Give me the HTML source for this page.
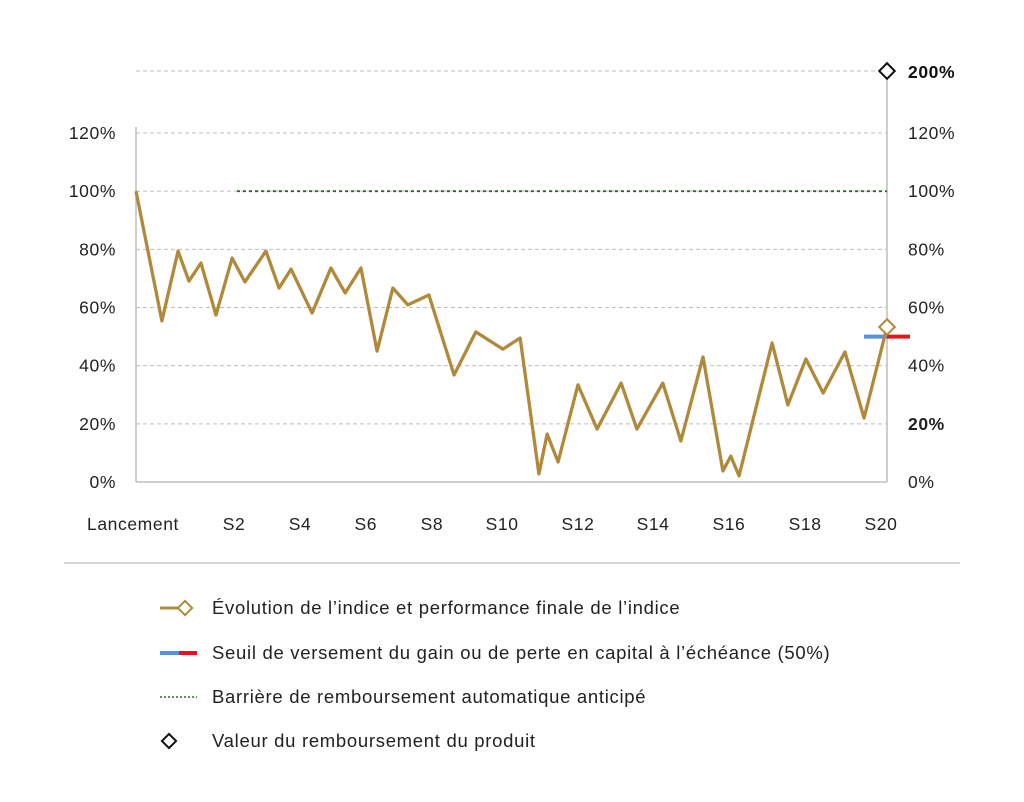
<!DOCTYPE html>
<html><head><meta charset="utf-8"><style>
body{margin:0;background:#fff;}
svg{display:block;font-family:"Liberation Sans",sans-serif;}
#legend text{letter-spacing:0.7px;}
#axes text{letter-spacing:0.6px;}
</style></head><body>
<svg width="1024" height="802" viewBox="0 0 1024 802">
<g id="grid"></g>
<g id="axes"></g>
<g id="series"></g>
<g id="legend"></g>
</svg>
<script>
const times=[0,0.69,1.12,1.41,1.73,2.13,2.56,2.90,3.46,3.81,4.13,4.69,5.19,5.57,5.99,6.42,6.84,7.24,7.80,8.47,9.05,9.77,10.23,10.73,10.95,11.24,11.77,12.28,12.92,13.34,14.03,14.51,15.10,15.63,15.84,16.06,16.94,17.36,17.84,18.30,18.88,19.39,20];
const indexValues=[100,55.4,79.4,69.1,75.3,57.4,77,68.8,79.4,66.7,73.2,58.1,73.6,65,73.6,45,66.7,60.9,64.3,36.8,51.6,45.7,49.5,2.8,16.5,6.9,33.4,18.2,34,18.2,34,14.1,43,3.8,8.9,2.1,47.8,26.5,42.3,30.6,44.7,22,53.3];
const xTickLabels=["Lancement","S2","S4","S6","S8","S10","S12","S14","S16","S18","S20"];
const xTickTimes=[0,2.69,4.45,6.2,7.96,9.83,11.85,13.85,15.87,17.9,19.92];
const yTicks=[0,20,40,60,80,100,120];
const barrier=100, barrierStart=2.69;
const threshold=50;
const redemption=200;

const NS="http://www.w3.org/2000/svg";
const X0=136,X1=887,Y0=482,Y120=133;
const x=t=>X0+(t-0)/20*(X1-X0);
const y=v=>Y0-v/120*(Y0-Y120);
function mk(tag,attrs,parent,text){const e=document.createElementNS(NS,tag);for(const k in attrs)e.setAttribute(k,attrs[k]);if(text!==undefined)e.textContent=text;parent.appendChild(e);return e;}
const G=document.getElementById('grid'),A=document.getElementById('axes'),S=document.getElementById('series'),L=document.getElementById('legend');

yTicks.forEach(v=>{
  if(v>0){const l=mk('line',{x1:X0,x2:X1,y1:y(v),y2:y(v),stroke:'#bdbdbd','stroke-dasharray':'4,3'},G);
  
  }
  const t1=mk('text',{x:116,y:y(v)+6,'text-anchor':'end','font-size':17.5,fill:'#222'},A,v+'%');
  
  
  const t2=mk('text',{x:908,y:y(v)+6,'font-size':17.5,fill:'#222','font-weight':v===20?'bold':'normal'},A,v+'%');
  
  
});
const ry=71;
const topl=mk('line',{x1:X0,x2:X1,y1:ry,y2:ry,stroke:'#bdbdbd','stroke-dasharray':'4,3'},G);


const t200=mk('text',{x:908,y:ry+7,'font-size':17.5,'font-weight':'bold',fill:'#111'},A,redemption+'%');


mk('line',{x1:X0,x2:X0,y1:127,y2:Y0,stroke:'#bdbdbd','stroke-width':1.5},A);
mk('line',{x1:X1,x2:X1,y1:75,y2:Y0,stroke:'#bdbdbd','stroke-width':1.5},A);
mk('line',{x1:X0,x2:X1,y1:Y0,y2:Y0,stroke:'#bdbdbd','stroke-width':1.5},A);
xTickLabels.forEach((s,i)=>{
  const t=mk('text',{x:x(xTickTimes[i])-3,y:530,'text-anchor':'middle','font-size':17.5,fill:'#222'},A,s);
  
  
});
const bl=mk('line',{x1:x(barrierStart),x2:X1,y1:y(barrier),y2:y(barrier),stroke:'#2f6b22','stroke-width':1.8,'stroke-dasharray':'3,3'},S);


const th1=mk('line',{x1:X1-23,x2:X1,y1:y(threshold),y2:y(threshold),stroke:'#5b8fd6','stroke-width':4},S);


const th2=mk('line',{x1:X1,x2:X1+23,y1:y(threshold),y2:y(threshold),stroke:'#e8141c','stroke-width':4},S);


const pts=times.map((t,i)=>x(t)+','+y(indexValues[i])).join(' ');
const pl=mk('polyline',{points:pts,fill:'none',stroke:'#b08a3a','stroke-width':3.3,'stroke-linejoin':'round'},S);


const lx=x(times[times.length-1]),lv=y(indexValues[indexValues.length-1]);
const fd=mk('rect',{x:lx-5.5,y:lv-5.5,width:11,height:11,fill:'#fff',stroke:'#b08a3a','stroke-width':2,transform:`rotate(45 ${lx} ${lv})`},S);


const rd=mk('rect',{x:X1-5.5,y:ry-5.5,width:11,height:11,fill:'#fff',stroke:'#111','stroke-width':2,transform:`rotate(45 ${X1} ${ry})`},S);


mk('line',{x1:64,x2:960,y1:563,y2:563,stroke:'#c8c8c8','stroke-width':1.5},L);
const items=["Évolution de l’indice et performance finale de l’indice","Seuil de versement du gain ou de perte en capital à l’échéance (50%)","Barrière de remboursement automatique anticipé","Valeur du remboursement du produit"];
const ly=[608,653,697,741];
items.forEach((s,i)=>{
  const g=mk('g',{},L);
  
  
  const yy=ly[i];
  if(i===0){mk('line',{x1:160,x2:180,y1:yy,y2:yy,stroke:'#b08a3a','stroke-width':3},g);
    mk('rect',{x:180,y:yy-5,width:10,height:10,fill:'#fff',stroke:'#b08a3a','stroke-width':2,transform:`rotate(45 185 ${yy})`},g);}
  if(i===1){mk('line',{x1:160,x2:179,y1:yy,y2:yy,stroke:'#5b8fd6','stroke-width':4},g);
    mk('line',{x1:179,x2:197,y1:yy,y2:yy,stroke:'#e8141c','stroke-width':4},g);}
  if(i===2){mk('line',{x1:160,x2:197,y1:yy,y2:yy,stroke:'#2f6b22','stroke-width':1.5,'stroke-dasharray':'2,2'},g);}
  if(i===3){mk('rect',{x:164,y:yy-5,width:10,height:10,fill:'#fff',stroke:'#111','stroke-width':2,transform:`rotate(45 169 ${yy})`},g);}
  mk('text',{x:212,y:yy+6,'font-size':18.5,fill:'#222'},g,s);
});
</script>
</body></html>
